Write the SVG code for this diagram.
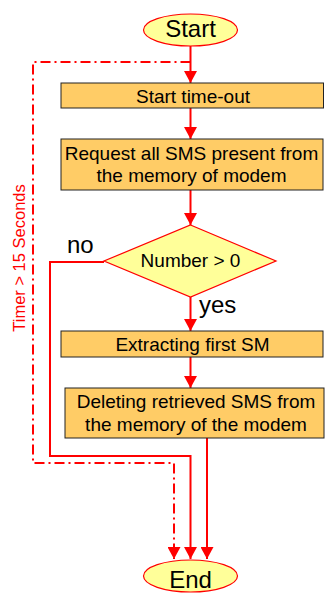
<svg xmlns="http://www.w3.org/2000/svg" width="325" height="599" viewBox="0 0 325 599">
<style>
.term{fill:#FFFF99;stroke:#FF0000;stroke-width:1.2}
.box{fill:#FFCC66;stroke:#222222;stroke-width:1}
.dec{fill:#FFFF99;stroke:#FF0000;stroke-width:1.2}
.t{font-family:"Liberation Sans",Arial,sans-serif;fill:#000;text-anchor:middle}
.bt{font-size:19px}
.big{font-size:24px}
.lab{font-family:"Liberation Sans",Arial,sans-serif;font-size:24px;fill:#000}
.wire{fill:none;stroke:#FF0000;stroke-width:2}
.dd{fill:none;stroke:#FF0000;stroke-width:2;stroke-dasharray:10 4 2 4}
</style>
<defs>
<marker id="ah" markerUnits="userSpaceOnUse" markerWidth="13" markerHeight="13" refX="12" refY="6.5" orient="auto">
<path d="M0,0 L12,6.5 L0,13 z" fill="#FF0000"/>
</marker>
</defs>
<g id="connectors">
<path class="wire" d="M190.5,46 V83" marker-end="url(#ah)"/>
<path class="wire" d="M190.5,108 V139" marker-end="url(#ah)"/>
<path class="wire" d="M190.5,190 V225" marker-end="url(#ah)"/>
<path class="wire" d="M190.5,297 V331" marker-end="url(#ah)"/>
<path class="wire" d="M190.5,357 V388" marker-end="url(#ah)"/>
<path class="wire" d="M104,262 H50 V456 H190.5 V559" marker-end="url(#ah)"/>
<path class="wire" d="M207,438 V559" marker-end="url(#ah)"/>
<path class="dd" d="M190.5,62 H33 V463 H174 V559" marker-end="url(#ah)"/>
<text class="lab" x="67" y="253">no</text>
<text class="lab" x="199" y="313">yes</text>
<text transform="translate(25,258) rotate(-90)" font-family="Liberation Sans, Arial, sans-serif" font-size="16.5" fill="#FF0000" text-anchor="middle">Timer &gt; 15 Seconds</text>
</g>
<g id="start">
<ellipse class="term" cx="190.5" cy="30" rx="47" ry="16"/>
<text class="t big" x="190.5" y="37">Start</text>
</g>
<g id="timeout">
<rect class="box" x="61" y="83" width="262.5" height="25"/>
<text class="t bt" x="193" y="103">Start time-out</text>
</g>
<g id="request">
<rect class="box" x="61" y="139" width="262" height="51"/>
<text class="t bt" x="191.5" y="160">Request all SMS present from</text>
<text class="t bt" x="191.5" y="182">the memory of modem</text>
</g>
<g id="decision">
<polygon class="dec" points="190.5,225 276,261 190.5,297 104,261"/>
<text class="t bt" x="190.5" y="267">Number &gt; 0</text>
</g>
<g id="extract">
<rect class="box" x="61" y="331" width="262" height="26"/>
<text class="t bt" x="192.5" y="351">Extracting first SM</text>
</g>
<g id="delete">
<rect class="box" x="65" y="388" width="259" height="50"/>
<text class="t bt" x="196" y="408">Deleting retrieved SMS from</text>
<text class="t bt" x="196" y="431">the memory of the modem</text>
</g>
<g id="end">
<ellipse class="term" cx="190.5" cy="576" rx="47" ry="16"/>
<text class="t big" x="190.5" y="588">End</text>
</g>
</svg>
